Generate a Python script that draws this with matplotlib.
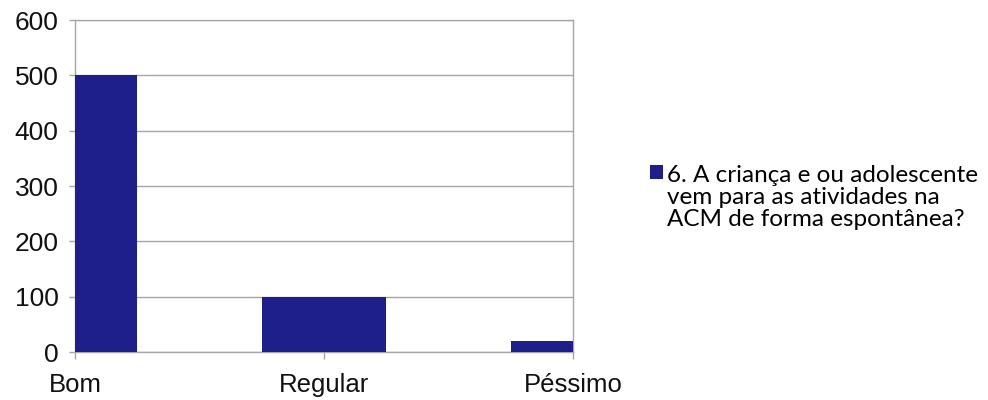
import matplotlib
matplotlib.use("Agg")
import matplotlib.pyplot as plt

categories = ["Bom", "Regular", "Péssimo"]
values = [500, 100, 20]
series_label = "6. A criança e ou adolescente\nvem para as atividades na\nACM de forma espontânea?"
y_ticks = [0, 100, 200, 300, 400, 500, 600]

bar_color = "#1f1f8c"
grid_color = "#a6a6a6"

fig = plt.figure(figsize=(9.88, 4.0), dpi=100)
ax = fig.add_axes([0.076, 0.12, 0.504, 0.83])

x = list(range(len(categories)))
bars = ax.bar(x, values, width=0.5, color=bar_color, label=series_label, zorder=3)

ax.set_xlim(0, len(categories) - 1)
ax.set_ylim(0, 600)
ax.set_yticks(y_ticks)
ax.set_xticks(x)
ax.set_xticklabels(categories)

for lab in ax.get_xticklabels():
    lab.set_fontfamily("Liberation Sans")
    lab.set_fontsize(18.5)
    lab.set_color("#111111")
for lab in ax.get_yticklabels():
    lab.set_fontfamily("Liberation Sans")
    lab.set_fontsize(19)
    lab.set_color("#111111")

ax.yaxis.grid(True, color=grid_color, linewidth=1.0, zorder=0)
ax.tick_params(axis="y", length=4, width=1, color=grid_color, pad=8)
ax.tick_params(axis="x", length=5, width=1, color=grid_color, pad=10)
for s in ax.spines.values():
    s.set_color(grid_color)
    s.set_linewidth(1.0)

leg = fig.legend(handles=[bars], labels=[series_label],
                 loc="upper left", bbox_to_anchor=(0.658, 0.588),
                 frameon=False, prop={"family": "Lato", "size": 17.5},
                 handlelength=0.53, handleheight=0.53, handletextpad=0.15,
                 borderpad=0, borderaxespad=0, labelspacing=0.2)
leg.get_texts()[0].set_linespacing(1.05)
for col in leg._legend_handle_box.get_children():
    for hp in col.get_children():
        hp.align = "top"

fig.savefig("out.png", dpi=100)
